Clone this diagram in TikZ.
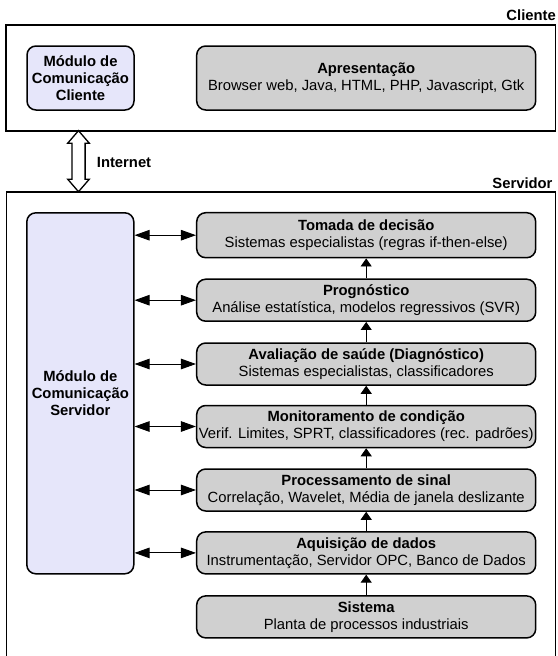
\documentclass[tikz,border=0pt]{standalone}
\usepackage{fontspec}
\setmainfont{Liberation Sans}
\usepackage{tikz}
\usetikzlibrary{arrows.meta,positioning,calc}
\definecolor{modcol}{RGB}{230,230,250}
\definecolor{laycol}{RGB}{208,208,208}
\newcommand{\fsz}{\fontsize{14.8}{16.7}\selectfont}
\tikzset{
  frame/.style={draw,line width=1.8pt,inner sep=0pt},
  mod/.style  ={draw,line width=1.5pt,rounded corners=9pt,fill=modcol,align=center,minimum width=107pt,inner sep=0pt,font=\fsz\bfseries},
  lay/.style  ={draw,line width=1.5pt,rounded corners=9pt,fill=laycol,align=center,minimum width=339pt,minimum height=42pt,inner sep=0.5pt,font=\fsz},
  lbl/.style  ={inner sep=0pt,font=\fsz\bfseries},
  net/.style  ={draw,fill=white,line width=1.3pt},
  ar/.style={{Triangle[length=15pt,width=10.5pt]}-{Triangle[length=15pt,width=10.5pt]},line width=0.9pt},
  up/.style={-{Triangle[length=8pt,width=11pt]},line width=0.9pt},
}

\begin{document}
\begin{tikzpicture}[x=1pt,y=-1pt]
  \useasboundingbox (0,0) rectangle (557,656);
  % cliente
  \node[frame,minimum width=549.5pt,minimum height=105.7pt] (cli) at (280.75,77.85) {};
  \node[lbl,anchor=base east] (clilbl) at (556,20.7) {Cliente};
  \node[mod,minimum height=64pt] (climod) at (80.5,78) {Módulo de\\Comunicação\\Cliente};
  \node[lay,minimum height=64pt] (apr) at (366.2,78) {\textbf{Apresentação}\\Browser web, Java, HTML, PHP, Javascript, Gtk};
  % servidor
  \node[frame,minimum width=549pt,minimum height=468pt] (srv) at (281,425.7) {};
  \node[lbl,anchor=base east] (srvlbl) at (552.7,188.3) {Servidor};
  \node[mod,minimum height=361pt] (srvmod) at (80.3,393.3) {Módulo de\\Comunicação\\Servidor};
  \node[lay,minimum height=45pt] (tom) at (366.2,235.2) {\textbf{Tomada de decisão}\\Sistemas especialistas (regras if-then-else)};
  \node[lay] (prog) at (366.2,300.2) {\textbf{Prognóstico}\\Análise estatística, modelos regressivos (SVR)};
  \node[lay] (aval) at (366.2,364) {\textbf{Avaliação de saúde (Diagnóstico)}\\Sistemas especialistas, classificadores};
  \node[lay] (mon) at (366.2,426.5) {\textbf{Monitoramento de condição}\\Verif. Limites, SPRT, classificadores (rec. padrões)};
  \node[lay] (proc) at (366.2,490) {\textbf{Processamento de sinal}\\Correlação, Wavelet, Média de janela deslizante};
  \node[lay] (aqu) at (366.2,552.9) {\textbf{Aquisição de dados}\\Instrumentação, Servidor OPC, Banco de Dados};
  \node[lay] (sis) at (366.2,616.9) {\textbf{Sistema}\\Planta de processos industriais};
  \foreach \b in {tom,prog,aval,mon,proc,aqu}
    \draw[ar] (srvmod.east |- \b.west) -- (\b.west);
  \foreach \a/\b in {sis/aqu,aqu/proc,proc/mon,mon/aval,aval/prog,prog/tom}
    \draw[up] (\a) -- (\b);
  % internet
  \coordinate (nt) at (78.5,130.7);
  \coordinate (nb) at (78.5,191.7);
  \draw[net] (nt) -- ++(10.8,12.5) -- ++(-4.2,0) -- ($(nb)+(6.6,-12.5)$) -- ++(4.2,0) -- (nb)
    -- ++(-10.8,-12.5) -- ++(4.2,0) -- ($(nt)+(-6.6,12.5)$) -- ++(-4.2,0) -- cycle;
  \node[lbl,anchor=base west] (inet) at (96.7,167.3) {Internet};
\end{tikzpicture}
\end{document}
